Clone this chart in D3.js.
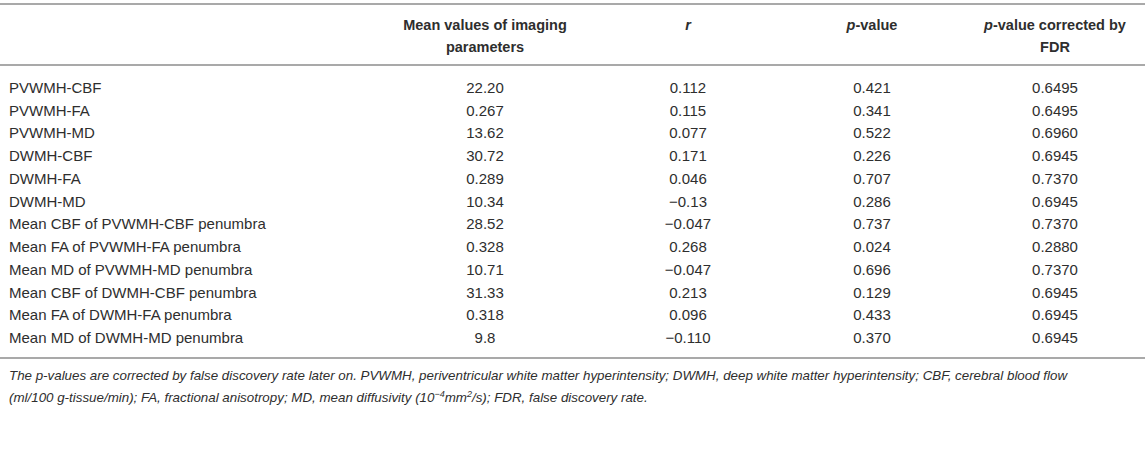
<!DOCTYPE html>
<html>
<head>
<meta charset="utf-8">
<script src="https://d3js.org/d3.v7.min.js"></script>
<style>
  html, body { margin: 0; padding: 0; background: #fff; }
  svg text { font-family: "Liberation Sans", Arial, sans-serif; fill: #2e2e2e; }
</style>
</head>
<body>
<svg id="svg" width="1145" height="449"></svg>
<script>
  const rowLabels = [
    "PVWMH-CBF", "PVWMH-FA", "PVWMH-MD", "DWMH-CBF", "DWMH-FA", "DWMH-MD",
    "Mean CBF of PVWMH-CBF penumbra", "Mean FA of PVWMH-FA penumbra",
    "Mean MD of PVWMH-MD penumbra", "Mean CBF of DWMH-CBF penumbra",
    "Mean FA of DWMH-FA penumbra", "Mean MD of DWMH-MD penumbra"
  ];
  const meanValues = ["22.20", "0.267", "13.62", "30.72", "0.289", "10.34", "28.52", "0.328", "10.71", "31.33", "0.318", "9.8"];
  const rValues = ["0.112", "0.115", "0.077", "0.171", "0.046", "\u22120.13", "\u22120.047", "0.268", "\u22120.047", "0.213", "0.096", "\u22120.110"];
  const pValues = ["0.421", "0.341", "0.522", "0.226", "0.707", "0.286", "0.737", "0.024", "0.696", "0.129", "0.433", "0.370"];
  const fdrValues = ["0.6495", "0.6495", "0.6960", "0.6945", "0.7370", "0.6945", "0.7370", "0.2880", "0.7370", "0.6945", "0.6945", "0.6945"];

  const columns = ["mean", "r", "p", "fdr"];
  const colCenters = [485, 688, 872, 1055];

  const svg = d3.select("#svg");
  const W = 1145;

  // horizontal rules
  const rules = [4, 65, 358];
  svg.selectAll("line.rule").data(rules).join("line")
    .attr("class", "rule")
    .attr("x1", 0).attr("x2", W)
    .attr("y1", d => d).attr("y2", d => d)
    .attr("stroke", "#a9a9a9").attr("stroke-width", 2);

  const x = d3.scaleOrdinal().domain(columns).range(colCenters);

  // header (bold, two lines where needed)
  const head = svg.append("g").style("font-weight", "bold").style("font-size", "14.5px");
  function headText(col, y, parts) {
    const t = head.append("text").attr("x", x(col)).attr("y", y).attr("text-anchor", "middle");
    parts.forEach(p => t.append("tspan").style("font-style", p[1] ? "italic" : "normal").text(p[0]));
  }
  headText("mean", 30, [["Mean values of imaging", false]]);
  headText("mean", 52, [["parameters", false]]);
  headText("r", 30, [["r", true]]);
  headText("p", 30, [["p", true], ["-value", false]]);
  headText("fdr", 30, [["p", true], ["-value corrected by", false]]);
  headText("fdr", 52, [["FDR", false]]);

  // body rows
  const y = d3.scaleBand().domain(d3.range(rowLabels.length)).range([76, 349]);
  const rows = svg.append("g").style("font-size", "15px")
    .selectAll("g").data(rowLabels).join("g")
    .attr("transform", (d, i) => `translate(0,${y(i) + y.bandwidth() / 2 + 5.5})`);

  rows.append("text").attr("x", 9).text(d => d);
  const cols = [meanValues, rValues, pValues, fdrValues];
  cols.forEach((vals, c) => {
    rows.append("text").attr("x", x(columns[c])).attr("text-anchor", "middle").text((d, i) => vals[i]);
  });

  // footnote
  const foot = svg.append("g").style("font-size", "13.35px").style("font-style", "italic");
  foot.append("text").attr("x", 9).attr("y", 380)
    .text("The p-values are corrected by false discovery rate later on. PVWMH, periventricular white matter hyperintensity; DWMH, deep white matter hyperintensity; CBF, cerebral blood flow");
  const l2 = foot.append("text").attr("x", 9).attr("y", 402);
  l2.append("tspan").text("(ml/100 g-tissue/min); FA, fractional anisotropy; MD, mean diffusivity (10");
  l2.append("tspan").attr("dy", -5).style("font-size", "9px").text("\u22124");
  l2.append("tspan").attr("dy", 5).text("mm");
  l2.append("tspan").attr("dy", -5).style("font-size", "9px").text("2");
  l2.append("tspan").attr("dy", 5).text("/s); FDR, false discovery rate.");
</script>
</body>
</html>
